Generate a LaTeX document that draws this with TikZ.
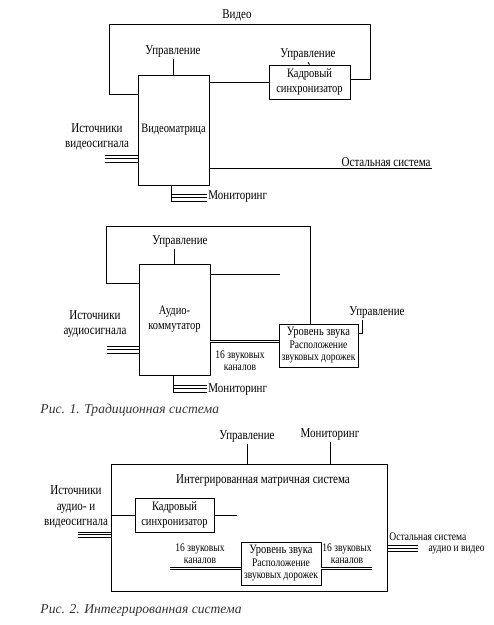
\documentclass[tikz,border=0pt]{standalone}
\usepackage{fontspec}
\setmainfont{Liberation Serif}[FakeStretch=0.82]
\newfontfamily\capfont{Liberation Serif}
\usetikzlibrary{positioning,calc}

\begin{document}
\begin{tikzpicture}[
    x=1pt, y=-1pt,
    line width=0.9pt,
    box/.style={draw, line width=0.9pt, inner sep=1pt, align=center, font=\fontsize{12.8}{15}\selectfont},
    lvlbox/.style={draw, line width=0.9pt, inner sep=1pt, align=center, font=\fontsize{11.6}{12.5}\selectfont},
    lbl/.style={inner sep=1pt, align=center, font=\fontsize{13.4}{15.5}\selectfont},
    small/.style={inner sep=1pt, align=center, font=\fontsize{11.6}{12}\selectfont},
    caption/.style={inner sep=0pt, anchor=west, text=black!80, font=\capfont\fontsize{13.6}{14}\selectfont\itshape},
    bus/.style={line width=0.7pt},
    dbl/.style={double, double distance=1.4pt, line width=0.7pt}
]
\useasboundingbox (0,0) rectangle (494,625);

% Fig. 1, video
\node[box, minimum width=71pt, minimum height=110pt] (vm) at (173.5,130) {Видеоматрица};
\node[box, minimum width=81pt, minimum height=34pt] (sync1) at (309.5,82) {Кадровый\\синхронизатор};
\node[lbl] (video) at (237,15) {Видео};
\node[lbl] (ctl1) at (173,52) {Управление};
\node[lbl] (ctl2) at (308,55) {Управление};
\node[lbl] (src1) at (97,137) {Источники\\видеосигнала};
\node[lbl, anchor=east] (rest1) at (432,162) {Остальная система};
\node[lbl, anchor=west] (mon1) at (207,197) {Мониторинг};
\coordinate (bus1) at (105,155);
\coordinate (m1) at (171,194);

\draw ([yshift=-20pt]vm.north west) -- ++(-28,0) |- ([yshift=-2pt]video.south)
    -| ([xshift=20pt,yshift=3pt]sync1.east) -- ([yshift=3pt]sync1.east);
\draw (vm.east |- sync1.west) -- (sync1.west);
\draw (vm.north -| ctl1) -- (ctl1.south);
\draw (sync1.north) -- (ctl2.south);
\draw (vm.east |- rest1.south east) -- (rest1.south east);
\foreach \d in {0,3.5,7}
    \draw[bus] ($(bus1)+(0,\d)$) -- ($(bus1 -| vm.west)+(0,\d)$);
\draw (vm.south -| m1) -- ($(m1)+(0,7)$);
\foreach \d in {0,3.5,7}
    \draw[bus] ($(m1)+(0,\d)$) -- ($(m1 -| mon1.west)+(0,\d)$);

% Fig. 1, audio
\node[box, minimum width=71pt, minimum height=111pt] (ak) at (174.5,319.5) {Аудио-\\коммутатор};
\node[lvlbox, minimum width=79pt, minimum height=43pt] (lvl1) at (318.5,345.5)
    {{\fontsize{12.8}{12.5}\selectfont Уровень звука}\\Расположение\\звуковых дорожек};
\node[lbl] (ctl3) at (180,242) {Управление};
\node[lbl] (ctl4) at (377,313) {Управление};
\node[lbl] (src2) at (95,324) {Источники\\аудиосигнала};
\node[small] (ch1) at (240,361) {16 звуковых\\каналов};
\node[lbl, anchor=west] (mon2) at (207,390) {Мониторинг};
\node[caption] (cap1) at (40,410) {Рис. 1. Традиционная система};
\coordinate (akout) at (280,274);
\coordinate (bus2) at (107,346);
\coordinate (m2) at (173,385);

\draw ([yshift=-20pt]ak.north west) -- ++(-32,0) -- ++(0,-57) -| ([xshift=-8.5pt]lvl1.north);
\draw (ak.north) -- (ak.north |- ctl3.south);
\draw (ak.east |- akout) -- (akout);
\draw[dbl] ($(ak.east |- lvl1.west)+(0,-4)$) -- ($(lvl1.west)+(0,-4)$);
\draw ([yshift=12.5pt]lvl1.east) -| ([xshift=-15pt]ctl4.south);
\foreach \d in {0,3.5,7}
    \draw[bus] ($(bus2)+(0,\d)$) -- ($(bus2 -| ak.west)+(0,\d)$);
\draw (ak.south -| m2) -- ($(m2)+(0,7)$);
\foreach \d in {0,3.5,7}
    \draw[bus] ($(m2)+(0,\d)$) -- ($(m2 -| mon2.west)+(0,\d)$);

% Fig. 2
\node[box, minimum width=276pt, minimum height=127pt] (ims) at (249,527.5) {};
\node[lbl] (imst) at (263,481) {Интегрированная матричная система};
\node[lbl] (ctl5) at (247,437) {Управление};
\node[lbl] (mon3) at (330,435) {Мониторинг};
\node[box, minimum width=79pt, minimum height=34pt] (sync2) at (174.5,515) {Кадровый\\синхронизатор};
\node[lvlbox, minimum width=80pt, minimum height=43pt] (lvl2) at (281,563.5)
    {{\fontsize{12.8}{12.5}\selectfont Уровень звука}\\Расположение\\звуковых дорожек};
\node[lbl] (src3) at (76,507) {Источники\\аудио- и\\видеосигнала};
\node[small] (ch2) at (200,554) {16 звуковых\\каналов};
\node[small] (ch3) at (347,554) {16 звуковых\\каналов};
\node[small, inner sep=0pt, anchor=west] (rest2a) at (389,536.5) {Остальная система};
\node[small, inner sep=0pt, anchor=east] (rest2b) at (485,550.5) {аудио и видео};
\node[caption] (cap2) at (40,610) {Рис. 2. Интегрированная система};
\coordinate (s2out) at (237,515);
\coordinate (ch2in) at (170,568.5);
\coordinate (ch3out) at (372,568.5);
\coordinate (bus3) at (78,532);
\coordinate (bus4) at (418,545);

\draw (ctl5.south) -- (ctl5.south |- ims.north);
\draw (mon3.south) -- (mon3.south |- ims.north);
\draw (ims.west |- sync2.west) -- (sync2.west);
\draw (sync2.east) -- (s2out);
\draw[dbl] (ch2in) -- (ch2in -| lvl2.west);
\draw[dbl] (lvl2.east |- ch3out) -- (ch3out);
\foreach \d in {0,2.5,5}
    \draw[bus] ($(bus3)+(0,\d)$) -- ($(bus3 -| ims.west)+(0,\d)$);
\foreach \d in {0,3.3,6.6}
    \draw[bus] ($(ims.east |- bus4)+(0,\d)$) -- ($(bus4)+(0,\d)$);

\end{tikzpicture}
\end{document}
